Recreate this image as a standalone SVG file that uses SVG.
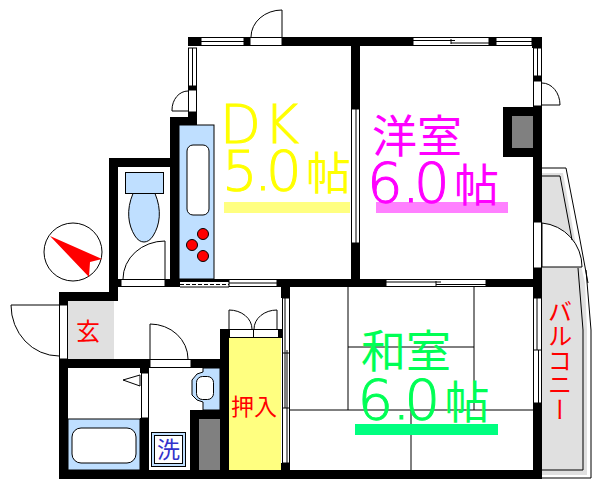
<svg xmlns="http://www.w3.org/2000/svg" width="600" height="484" viewBox="0 0 600 484">
<style>
.w{fill:#000}
.o{fill:#fff;stroke:#000;stroke-width:1}
.l{fill:none;stroke:#000;stroke-width:1}
.b{fill:#bfdfff;stroke:#000;stroke-width:1}
.g{fill:#808080}
.t{font-family:"DejaVu Sans","Noto Sans CJK JP",sans-serif;font-weight:200;stroke-width:1}
.c{font-family:"Noto Sans CJK JP",sans-serif;font-weight:400;stroke-width:0}
.big{font-size:56px}
.cj{font-size:45px}
.sm{font-size:23px}
</style>
<rect width="600" height="484" fill="#fff"/>
<g id="balcony">
<path d="M542 173H563L575 240L585 283L587 330V475H542Z" fill="#e0e0e0"/>
<path class="o" d="M542 223A44 44 0 0 1 582 267H542Z"/>
<path class="l" d="M542 168H566L580 240L588 283M586 270L591 330V478H542M542 176H560L572 240M578 268L583 330V470H542"/>
</g>
<g id="floors">
<rect x="68" y="301" width="46" height="58" fill="#e0e0e0"/>
<rect x="229" y="338" width="52" height="132" fill="#ffff80"/>
<rect class="g" x="199" y="419" width="21" height="51"/>
<rect class="g" x="512" y="116" width="21" height="32"/>
</g>
<g id="tatami" class="l">
<path d="M348 287V410M474 287V410M348 347H474M290 410H533M411 410V470"/>
</g>
<g id="kitchen">
<rect class="b" x="179" y="125" width="35" height="154"/>
<rect x="187" y="145" width="22" height="70" rx="6" fill="#fff" stroke="#000"/>
<g fill="#f00" stroke="#000" stroke-width="1">
<circle cx="203" cy="234" r="5.5"/><circle cx="192" cy="245" r="5.500"/><circle cx="203" cy="256" r="5.500"/>
</g>
</g>
<g id="toilet">
<rect class="b" x="125.500" y="172.500" width="38" height="21"/>
<path class="b" d="M133 193.500C126 210 128 225 135 236C140 244 148 244 153 236C160 225 162 210 155 193.500Z"/>
<path class="l" d="M165 279V241A42 38 0 0 0 123 279"/>
</g>
<g id="bath">
<rect class="b" x="68" y="419" width="72" height="51"/>
<rect x="72" y="428" width="64" height="35" rx="9" fill="#fff" stroke="#000"/>
<path class="o" d="M123 380L140 375V386Z"/>
</g>
<g id="washstand">
<path class="b" d="M203 368V372L197 374L192 380V395L197 400L203 402V410H220V368Z"/>
<rect x="196.500" y="376.500" width="17" height="23" rx="6" fill="#fff" stroke="#000"/>
</g>
<g id="washer">
<rect x="151.500" y="432.500" width="34" height="34" fill="#bfdfff" stroke="#000"/>
<rect x="154.500" y="435.500" width="28" height="28" fill="#fff" stroke="#000"/>
</g>
<g id="walls" class="w">
<rect x="188" y="37" width="13" height="9"/>
<rect x="244" y="37" width="6" height="9"/>
<rect x="282" y="37" width="131" height="9"/>
<rect x="489" y="37" width="7" height="9"/>
<rect x="532" y="37" width="10" height="11"/>
<rect x="533" y="76" width="9" height="5"/>
<rect x="533" y="106" width="9" height="116"/>
<rect x="533" y="268" width="9" height="30"/>
<rect x="533" y="403" width="9" height="76"/>
<rect x="503" y="107" width="30" height="9"/>
<rect x="503" y="148" width="30" height="9"/>
<rect x="503" y="107" width="9" height="50"/>
<rect x="351" y="46" width="9" height="63"/>
<rect x="351" y="243" width="9" height="37"/>
<rect x="277" y="279" width="109" height="8"/>
<rect x="486" y="279" width="47" height="8"/>
<rect x="281" y="287" width="9" height="11"/>
<rect x="281" y="463" width="9" height="8"/>
<rect x="188" y="86" width="9" height="4"/>
<rect x="188" y="112" width="9" height="13"/>
<rect x="170" y="117" width="27" height="8"/>
<rect x="170" y="117" width="9" height="170"/>
<rect x="165" y="279" width="15" height="8"/>
<rect x="180" y="279" width="49" height="3"/>
<rect x="109" y="158" width="62" height="9"/>
<rect x="109" y="158" width="9" height="142"/>
<rect x="109" y="279" width="12" height="8"/>
<rect x="59" y="292" width="59" height="9"/>
<rect x="59" y="292" width="9" height="13"/>
<rect x="59" y="359" width="9" height="120"/>
<rect x="59" y="359" width="91" height="9"/>
<rect x="191" y="359" width="38" height="9"/>
<rect x="220" y="329" width="9" height="150"/>
<rect x="59" y="470" width="483" height="9"/>
<rect x="140" y="368" width="9" height="5"/>
<rect x="140" y="418" width="9" height="52"/>
<rect x="190" y="410" width="9" height="69"/>
<rect x="190" y="410" width="30" height="9"/>
<rect x="279" y="329" width="3" height="9"/>
</g>
<g id="windows">
<g class="o">
<rect x="201" y="37.500" width="43" height="8"/>
<rect x="413" y="37.500" width="76" height="8"/>
<rect x="496" y="37.500" width="36" height="8"/>
<rect x="533.500" y="48" width="8" height="28"/>
<rect x="188.500" y="48" width="8" height="38"/>
<rect x="351.500" y="109" width="8" height="134"/>
<rect x="386" y="279.500" width="100" height="7"/>
<rect x="229" y="279.500" width="48" height="7"/>
<rect x="533.500" y="298" width="8" height="105"/>
<rect x="282.500" y="298" width="7" height="165"/>
<rect x="229.500" y="329.500" width="49" height="8"/>
</g>
<path class="l" d="M201 41.500H244M413 40.500H455M451 43H489M451 39V44M496 41.500H532M537.500 48V76M192.500 48V86M356 109V243M386 282H441M436 284.500H486M436 281V286M229 283H277M537 298V350M538.500 350V403M534 350H541M285 298V408M287 350V463M283 353H289M283 408H289M253.500 330V337"/>
<path d="M180 284.500H229" fill="none" stroke="#000" stroke-dasharray="4 2"/>
<path class="l" d="M180 287H229"/>
</g>
<g id="doors">
<rect class="o" x="250" y="37.500" width="32" height="8"/>
<path class="l" d="M282 37V10A31 27 0 0 0 251 37"/>
<rect class="o" x="188.500" y="90" width="8" height="22"/>
<path class="l" d="M188 91A16 19 0 0 0 172 110V111H188"/>
<rect class="o" x="533.500" y="81" width="8" height="25"/>
<path class="l" d="M542 83A18 22 0 0 1 560 105H542"/>
<rect class="o" x="533.500" y="222" width="8" height="46"/>
<rect class="o" x="121" y="279.500" width="44" height="7"/>
<rect class="o" x="59.500" y="305" width="8" height="54"/>
<path class="l" d="M59 305H11A48 51 0 0 0 59 356"/>
<rect class="o" x="150" y="359.500" width="41" height="8"/>
<path class="l" d="M150 359V324A38 35 0 0 1 188 359"/>
<rect class="o" x="141.500" y="373" width="7" height="45"/>
<path class="l" d="M229 329V310A23 19 0 0 1 252 329M277 329V310A23 19 0 0 0 254 329"/>
</g>
<g id="compass">
<circle cx="73" cy="252" r="29" fill="#fff" stroke="#000"/>
<path d="M50 236L102 259L90 262L89 277Z" fill="#f00"/>
</g>
<g id="labels">
<rect x="224" y="202" width="126" height="11" fill="#ffff80"/>
<rect x="376" y="202" width="132" height="11" fill="#ff80ff"/>
<rect x="355" y="424" width="143" height="11" fill="#00ff80"/>
<text class="t" x="220 264" y="143" font-size="53" fill="#ff0" stroke="#ff0">DK</text>
<text class="t big" x="222 254 266 306" y="190" fill="#ff0" stroke="#ff0">5.0<tspan class="c cj">帖</tspan></text>
<text class="c cj" x="372" y="153" fill="#f0f">洋室</text>
<text class="t big" x="367 402 414 454" y="202" fill="#f0f" stroke="#f0f">6.0<tspan class="c cj">帖</tspan></text>
<text class="c cj" x="361" y="368" fill="#0f5">和室</text>
<text class="t big" x="357.500 392.500 404.500 444.500" y="419" fill="#0f5" stroke="#0f5">6.0<tspan class="c cj">帖</tspan></text>
<text class="c sm" x="231" y="415" fill="#f00">押入</text>
<text class="c" x="76" y="340" font-size="24" fill="#f00">玄</text>
<text class="c" x="157" y="458" font-size="23" fill="#33c">洗</text>
<text class="c" x="560" y="299" font-size="24.500" fill="#f00" style="writing-mode:vertical-rl">バルコニー</text>
</g>
</svg>
